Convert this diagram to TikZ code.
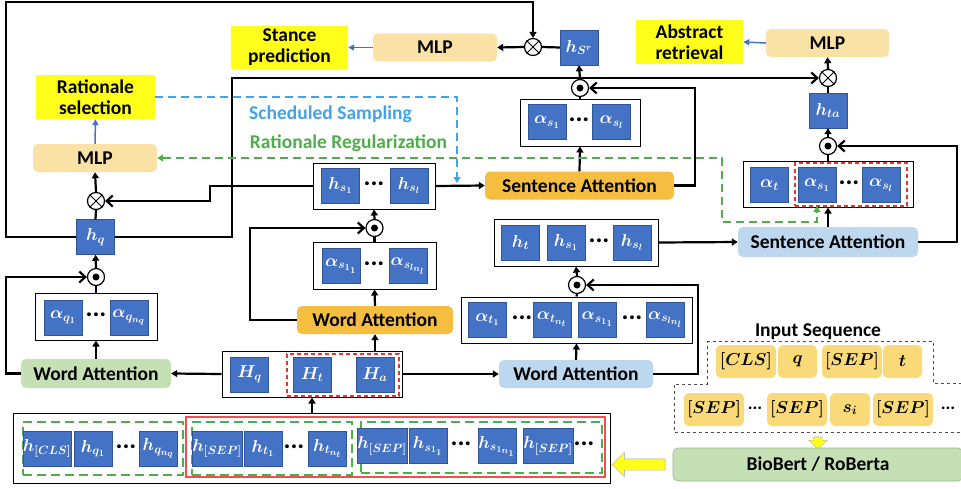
\documentclass[tikz,border=0pt]{standalone}
\usepackage{fontspec}
\setmainfont{Carlito}
\usepackage{bm}
\usetikzlibrary{arrows.meta,shapes.arrows}
\definecolor{hblue}{HTML}{4472C4}
\definecolor{hbord}{HTML}{2F5597}
\definecolor{mlpc}{HTML}{FAE2A6}
\definecolor{tokc}{HTML}{FAD978}
\definecolor{orc}{HTML}{F5BE41}
\definecolor{blc}{HTML}{BDD7EE}
\definecolor{grc}{HTML}{C5E0B4}
\definecolor{ssc}{HTML}{41A3E8}
\definecolor{rrc}{HTML}{4FAE4A}
\definecolor{redc}{HTML}{EE3030}
\definecolor{yelc}{HTML}{FFFF1A}
\newcommand{\labfnt}{\bfseries\fontsize{19.5}{21}\selectfont}
\newcommand{\mathfnt}{\fontsize{18}{18}\selectfont}
\newcommand{\tokfnt}{\fontsize{18.5}{18.5}\selectfont}
\tikzset{
  box/.style={draw=hbord, fill=hblue, minimum width=38pt, minimum height=35pt, inner sep=0pt, text=white, font=\mathfnt},
  grp/.style={draw, line width=1pt, fill=white, inner sep=0pt},
  op/.style={circle, draw, line width=1.2pt, fill=white, minimum size=17pt, inner sep=0pt},
  att/.style={rounded corners=5pt, minimum height=28pt, inner sep=0pt, font=\labfnt},
  mlp/.style={att, fill=mlpc},
  lab/.style={fill=yelc, align=center, font=\labfnt, inner sep=0pt},
  tok/.style={fill=tokc, rounded corners=5pt, minimum height=33pt, inner sep=0pt, font=\tokfnt},
  dotsn/.style={font=\bfseries\fontsize{26}{26}\selectfont, inner sep=0pt},
  conn/.style={line width=2.2pt},
  tri/.style={conn, -{Triangle[length=6pt,width=7pt]}},
  barb/.style={conn, -{Straight Barb[length=6pt,width=11pt]}},
  bluearr/.style={draw=hblue, line width=1.5pt, -{Triangle[length=6pt,width=6pt]}},
  gdash/.style={draw=rrc, line width=1.8pt, dash pattern=on 8pt off 5pt},
  bdash/.style={draw=ssc, line width=1.8pt, dash pattern=on 8pt off 5pt},
  rdash/.style={draw=redc, line width=1.5pt, dash pattern=on 4pt off 3pt, inner sep=0pt},
  gbox/.style={draw=rrc, line width=1.3pt, dash pattern=on 9pt off 5pt, inner sep=0pt}
}
\begin{document}
\begin{tikzpicture}[x=1pt,y=-1pt]
\path[fill=white] (0,0) rectangle (961,488);
\useasboundingbox (0,0) rectangle (961,488);

\node[lab, minimum width=117pt, minimum height=43pt] (stance) at (289.5,47.5) {Stance\\prediction};
\node[mlp, minimum width=124pt] (mlpS) at (435,47.5) {MLP};
\node[op] (xS) at (533,47) {};
\node[box] (hSr) at (579,47.5) {$\bm{h_{S^r}}$};
\node[op] (oS) at (580,88) {};
\node[grp, minimum width=120pt, minimum height=47pt] (gAs) at (580,122.5) {};
\node[box] (aS1) at (547,122) {$\bm{\alpha_{s_1}}$};
\node[dotsn] at (579,120) {...};
\node[box] (aSl) at (611.5,122) {$\bm{\alpha_{s_l}}$};
\node[att, fill=orc, minimum width=189pt] (saO) at (579.5,185.5) {Sentence Attention};

\node[lab, minimum width=107pt, minimum height=44pt] (abs) at (689.5,42) {Abstract\\retrieval};
\node[mlp, minimum width=123pt] (mlpR) at (827.5,43) {MLP};
\node[op] (xR) at (828,78) {};
\node[box] (hta) at (828,110.5) {$\bm{h_{ta}}$};
\node[op] (oR) at (828,146) {};
\node[grp, minimum width=170pt, minimum height=46pt] (gAt) at (828,184) {};
\node[box] (at) at (769.5,185) {$\bm{\alpha_{t}}$};
\node[rdash, minimum width=112pt, minimum height=43pt] (rdT) at (851,184.5) {};
\node[box] (aT1) at (817,185) {$\bm{\alpha_{s_1}}$};
\node[dotsn] at (849,183) {...};
\node[box] (aTl) at (881,185) {$\bm{\alpha_{s_l}}$};
\node[att, fill=blc, minimum width=180pt, minimum height=30pt] (saB) at (828,242) {Sentence Attention};

\node[lab, minimum width=119pt, minimum height=44pt] (rat) at (95.5,97) {Rationale\\selection};
\node[mlp, minimum width=124pt] (mlpL) at (95,158) {MLP};
\node[op] (xL) at (96,201) {};
\node[box] (hq) at (95.5,237) {$\bm{h_{q}}$};
\node[op] (oL) at (96,277) {};
\node[grp, minimum width=122pt, minimum height=47pt] (gAq) at (96,316.5) {};
\node[box] (aq1) at (63,317.5) {$\bm{\alpha_{q_1}}$};
\node[dotsn] at (96,315) {...};
\node[box] (aqn) at (129,317.5) {$\bm{\alpha_{q_{n_q}}}$};
\node[att, fill=grc, minimum width=150pt, minimum height=29pt] (waG) at (96,373.5) {Word Attention};

\node[font=\labfnt, text=ssc] (ss) at (330.5,114) {Scheduled Sampling};
\node[font=\labfnt, text=rrc] (rr) at (348.5,143) {Rationale Regularization};

\node[grp, minimum width=122pt, minimum height=46pt] (gHs) at (374,186) {};
\node[box] (hs1) at (340.5,185.5) {$\bm{h_{s_1}}$};
\node[dotsn] at (374,183.5) {...};
\node[box] (hsl) at (409,185.5) {$\bm{h_{s_l}}$};
\node[op] (oM) at (374.5,228) {};
\node[grp, minimum width=123pt, minimum height=47pt] (gAs11) at (374.5,265.5) {};
\node[box] (as11) at (341,266) {$\bm{\alpha_{s_{1_1}}}$};
\node[dotsn] at (374,264) {...};
\node[box] (asln) at (408,266) {$\bm{\alpha_{s_{l_{n_l}}}}$};
\node[att, fill=orc, minimum width=156pt] (waO) at (375,320) {Word Attention};

\node[grp, minimum width=180pt, minimum height=46pt] (gH) at (312,374) {};
\node[box] (Hq) at (249.5,374.5) {$\bm{H_{q}}$};
\node[rdash, minimum width=112pt, minimum height=42pt] (rdH) at (343,375) {};
\node[box] (Ht) at (312,374.5) {$\bm{H_{t}}$};
\node[box] (Ha) at (375,374.5) {$\bm{H_{a}}$};

\node[grp, minimum width=164pt, minimum height=47pt] (gHt) at (576,242.5) {};
\node[box] (ht) at (520.5,242.5) {$\bm{h_{t}}$};
\node[box] (hts1) at (566,242.5) {$\bm{h_{s_1}}$};
\node[dotsn] at (599,240.5) {...};
\node[box] (htsl) at (632,242.5) {$\bm{h_{s_l}}$};
\node[op] (oB) at (577,285) {};
\node[grp, minimum width=231pt, minimum height=46pt] (gAb) at (576.5,320) {};
\node[box] (at1) at (487.5,319.5) {$\bm{\alpha_{t_1}}$};
\node[dotsn] at (522,317.5) {...};
\node[box] (atn) at (552,319.5) {$\bm{\alpha_{t_{n_t}}}$};
\node[box] (bs11) at (597.5,319.5) {$\bm{\alpha_{s_{1_1}}}$};
\node[dotsn] at (632,317.5) {...};
\node[box] (bsln) at (665.5,319.5) {$\bm{\alpha_{s_{l_{n_l}}}}$};
\node[att, fill=blc, minimum width=154pt] (waB) at (576,374) {Word Attention};

\node[grp, minimum width=597pt, minimum height=70pt] (big) at (311.5,448) {};
\node[draw=redc!85, line width=1.2pt, inner sep=0pt, minimum width=419pt, minimum height=60pt] (rs) at (395.5,447) {};
\node[gbox, minimum width=160pt, minimum height=53pt] (g1) at (103,448.5) {};
\node[gbox, minimum width=160pt, minimum height=53pt] (g2) at (272,448.5) {};
\node[gbox, minimum width=241pt, minimum height=51pt] (g3) at (481.5,447.5) {};
\node[box] (bcls) at (47,448.5) {$\bm{h_{[CLS]}}$};
\node[box] (bq1) at (93,448.5) {$\bm{h_{q_1}}$};
\node[dotsn] at (126,446.5) {...};
\node[box] (bqn) at (158.5,448.5) {$\bm{h_{q_{n_q}}}$};
\node[box] (bsep1) at (217,448.5) {$\bm{h_{[SEP]}}$};
\node[box] (bt1) at (263,448.5) {$\bm{h_{t_1}}$};
\node[dotsn] at (294,446.5) {...};
\node[box] (btn) at (327.5,448.5) {$\bm{h_{t_{n_t}}}$};
\node[box] (bsep2) at (382,446) {$\bm{h_{[SEP]}}$};
\node[box] (bs11) at (428,446) {$\bm{h_{s_{1_1}}}$};
\node[dotsn] at (461,444) {...};
\node[box] (bs1n) at (497,446) {$\bm{h_{s_{1_{n_1}}}}$};
\node[box] (bsep3) at (548,446) {$\bm{h_{[SEP]}}$};
\node[dotsn] at (584,444) {...};

\node[font=\labfnt] (inseq) at (818,332) {Input Sequence};
\draw[dashed, draw=gray!60!black, line width=1pt] (707,341) -- (933,341) -- (933,383) -- (965,383) -- (965,432) -- (674,432) -- (674,384) -- (707,384) -- cycle;
\node[tok, minimum width=60pt] (tcls) at (746,361.5) {$\bm{[CLS]}$};
\node[tok, minimum width=39pt] (tq) at (797.5,361.5) {$\bm{q}$};
\node[tok, minimum width=60pt] (tsep1) at (852,361.5) {$\bm{[SEP]}$};
\node[tok, minimum width=39pt] (tt) at (902.5,361.5) {$\bm{t}$};
\node[tok, minimum width=60pt] (tsep2) at (714,409.5) {$\bm{[SEP]}$};
\node[dotsn, font=\bfseries\fontsize{18}{18}\selectfont] at (755,408) {...};
\node[tok, minimum width=60pt] (tsep3) at (797,409.5) {$\bm{[SEP]}$};
\node[tok, minimum width=40pt] (tsi) at (850,409.5) {$\bm{s_i}$};
\node[tok, minimum width=60pt] (tsep4) at (903,409.5) {$\bm{[SEP]}$};
\node[dotsn, font=\bfseries\fontsize{18}{18}\selectfont] at (948,408) {...};
\node[single arrow, draw=gray!70, fill=yelc, shape border rotate=270, minimum height=12pt, inner sep=4pt, single arrow head extend=5pt] (darr) at (818,441) {};
\node[att, fill=grc, draw=grc!80!black, line width=0.6pt, minimum width=290pt, minimum height=33pt] (bio) at (818,464.5) {BioBert / RoBerta};
\node[single arrow, draw=gray!70, fill=yelc, shape border rotate=180, minimum height=53pt, inner sep=5.5pt, single arrow head extend=6.5pt] (yarr) at (641.5,464.5) {};

\foreach \n in {xS,xR,xL}
  \draw[line width=1pt] (\n.north west) -- (\n.south east) (\n.north east) -- (\n.south west);
\foreach \n in {oS,oR,oL,oM,oB}
  \fill (\n.center) circle (3.5pt);

\coordinate (ssEnd) at (457,183);
\coordinate (rrEnd) at (817,206);

\draw[tri] (hq.west) -| (6,2) -| (xS.north);
\draw[barb] (hq.east) -| (232,78) -- (xR.west);
\draw[tri] (xS.west) -- (mlpS.east);
\draw[conn] (hSr.west) -- (xS.east);
\draw[tri] (oS.north) -- (hSr.south);
\draw[conn] (gAs.north) -- (oS.south);
\draw[tri] (saO.north) -- (gAs.south);
\draw[barb] (saO.east) -| (695,88) -- (oS.east);
\draw[tri] (gHs.east) -- (saO.west);
\draw[barb] (gHs.west) -| (210,201) -- (xL.east);
\draw[tri] (xL.north) -- (mlpL.south);
\draw[conn] (hq.north) -- (xL.south);
\draw[tri] (oL.north) -- (hq.south);
\draw[conn] (gAq.north) -- (oL.south);
\draw[tri] (waG.north) -- (gAq.south);
\draw[barb] (waG.west) -| (6,277) -- (oL.west);
\draw[tri] (gH.west) -- (waG.east);
\draw[tri] (gH.east) -- (waB.west);
\draw[tri] (waO.south |- gH.north) -- (waO.south);
\draw[tri] (gH.south |- big.north) -- (gH.south);
\draw[tri] (waO.north) -- (gAs11.south);
\draw[conn] (gAs11.north) -- (oM.south);
\draw[tri] (oM.north) -- (gHs.south);
\draw[barb] (waO.west) -| (250,228) -- (oM.west);
\draw[tri] (waB.north) -- (gAb.south);
\draw[conn] (gAb.north) -- (oB.south);
\draw[tri] (oB.north) -- (gHt.south);
\draw[barb] (waB.east) -| (698,285) -- (oB.east);
\draw[tri] (gHt.east) -- (saB.west);
\draw[tri] (saB.north) -- (gAt.south);
\draw[barb] (saB.east) -| (957,146) -- (oR.east);
\draw[conn] (gAt.north) -- (oR.south);
\draw[tri] (oR.north) -- (hta.south);
\draw[conn] (hta.north) -- (xR.south);
\draw[tri] (xR.north) -- (mlpR.south);
\draw[bluearr] (mlpR.west) -- (abs.east);
\draw[bluearr] (mlpS.west) -- (stance.east);
\draw[bluearr] (mlpL.north) -- (rat.south);
\draw[bdash, -{Triangle[length=6pt,width=7pt]}] (rat.east) -| (ssEnd);
\draw[gdash, {Triangle[length=6pt,width=7pt]}-{Triangle[length=6pt,width=7pt]}] (mlpL.east) -- (722,158) |- (817,222) -- (rrEnd);
\end{tikzpicture}
\end{document}
